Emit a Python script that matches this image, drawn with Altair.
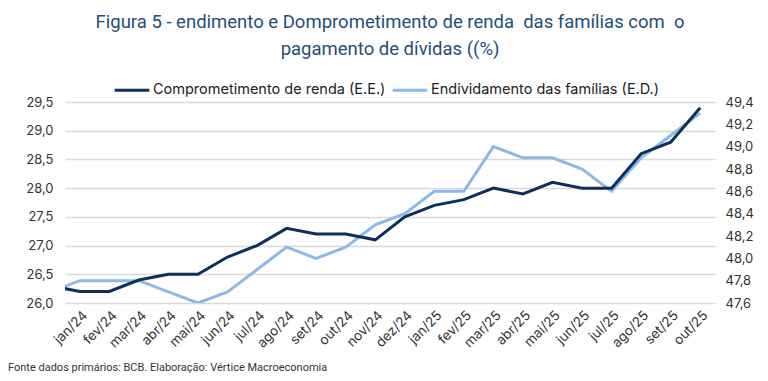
import altair as alt
import pandas as pd

# Month labels (first one is the month before the window, clipped at the left edge)
months = ["dez/23", "jan/24", "fev/24", "mar/24", "abr/24", "mai/24", "jun/24", "jul/24",
          "ago/24", "set/24", "out/24", "nov/24", "dez/24", "jan/25", "fev/25",
          "mar/25", "abr/25", "mai/25", "jun/25", "jul/25", "ago/25", "set/25", "out/25"]

comprometimento = [26.3, 26.2, 26.2, 26.4, 26.5, 26.5, 26.8, 27.0, 27.3, 27.2, 27.2, 27.1,
                   27.5, 27.7, 27.8, 28.0, 27.9, 28.1, 28.0, 28.0, 28.6, 28.8, 29.4]

endividamento = [47.7, 47.8, 47.8, 47.8, 47.7, 47.6, 47.7, 47.9, 48.1, 48.0, 48.1, 48.3,
                 48.4, 48.6, 48.6, 49.0, 48.9, 48.9, 48.8, 48.6, 48.9, 49.1, 49.3]

left_ticks = [26.0, 26.5, 27.0, 27.5, 28.0, 28.5, 29.0, 29.5]
right_ticks = [47.6, 47.8, 48.0, 48.2, 48.4, 48.6, 48.8, 49.0, 49.2, 49.4]

s1 = "Comprometimento de renda (E.E.)"
s2 = "Endividamento das famílias (E.D.)"

idx = list(range(-1, len(months) - 1))
df1 = pd.DataFrame({"i": idx, "mes": months, "valor": comprometimento, "serie": s1})
df2 = pd.DataFrame({"i": idx, "mes": months, "valor": endividamento, "serie": s2})

shown = months[1:]
label_expr = "[" + ",".join("'" + m + "'" for m in shown) + "][datum.value]"

font = "Inter"
narrow = "Liberation Sans Narrow, Roboto, Inter"

color = alt.Color(
    "serie:N",
    scale=alt.Scale(domain=[s1, s2], range=["#0E2F5E", "#8CB9E9"]),
    legend=alt.Legend(
        title=None, orient="none", legendX=48, legendY=-31, direction="horizontal",
        columns=2, symbolType="stroke", symbolSize=1200, symbolStrokeWidth=3,
        labelFontSize=14.5, labelFont=font, labelColor="#222222", labelOffset=2,
        columnPadding=0, labelLimit=400,
    ),
)

xenc = alt.X(
    "i:Q",
    scale=alt.Scale(domain=[-0.5, len(shown) - 0.5], nice=False, zero=False),
    axis=alt.Axis(values=list(range(len(shown))), labelExpr=label_expr, labelAngle=-45,
                  title=None, grid=False, domain=False, ticks=False, labelFontSize=13.5,
                  labelFont=font, labelColor="#333333", labelPadding=5,
                  labelOverlap=False),
)

line1 = alt.Chart(df1).mark_line(strokeWidth=3, clip=True).encode(
    x=xenc,
    y=alt.Y("valor:Q", scale=alt.Scale(domain=[26.0, 29.5], nice=False, zero=False),
            axis=alt.Axis(values=left_ticks, title=None, domain=False, ticks=False,
                          labelExpr="replace(format(datum.value, '.1f'), '.', ',')",
                          labelFontSize=13, labelFont=font, labelColor="#333333",
                          labelPadding=12, grid=True, gridColor="#D9D9D9", gridWidth=1.5)),
    color=color,
)

line2 = alt.Chart(df2).mark_line(strokeWidth=3, clip=True).encode(
    x=xenc,
    y=alt.Y("valor:Q", scale=alt.Scale(domain=[47.6, 49.4], nice=False, zero=False),
            axis=alt.Axis(values=right_ticks, orient="right", title=None, domain=False,
                          ticks=False, grid=False,
                          labelExpr="replace(format(datum.value, '.1f'), '.', ',')",
                          labelFontSize=13, labelFont=font, labelColor="#333333",
                          labelPadding=10)),
    color=color,
)

footer = alt.Chart(pd.DataFrame({"t": ["Fonte dados primários: BCB. Elaboração: Vértice Macroeconomia"]})).mark_text(
    align="left", baseline="middle", fontSize=11, font=narrow, color="#333333"
).encode(x=alt.value(-57), y=alt.value(266), text="t:N")

chart = alt.layer(line2, line1, footer).resolve_scale(y="independent").properties(
    width=650, height=201,
    autosize=alt.AutoSizeParams(type="none"),
    padding={"left": 57, "top": 94, "right": 45, "bottom": 70},
    title=alt.TitleParams(
        ["Figura 5 - endimento e Domprometimento de renda \u00a0das famílias com \u00a0o",
         "pagamento de dívidas ((%)"],
        anchor="middle", fontSize=18.5, font=narrow, fontWeight="normal",
        color="#1F4E79", lineHeight=27, offset=13,
    ),
).configure_view(stroke=None)

chart.save("out.html", embed_options={"renderer": "svg", "actions": False})
